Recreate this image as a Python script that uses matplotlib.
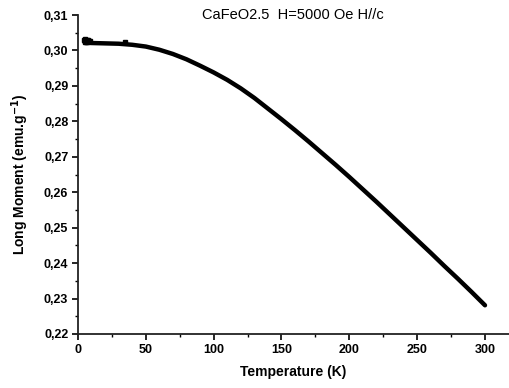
"""Long moment vs temperature for CaFeO2.5 (H=5000 Oe, H//c)."""
import matplotlib
matplotlib.use("Agg")
import matplotlib.pyplot as plt
from matplotlib.ticker import MultipleLocator, FuncFormatter

plt.rcParams['font.family'] = ['Liberation Sans', 'DejaVu Sans']

# main curve
temperature = [5, 10, 20, 30, 40, 50, 60, 70, 80, 90, 100, 110, 120, 130, 140,
               150, 160, 170, 180, 190, 200, 210, 220, 230, 240, 250, 260, 270,
               280, 290, 300]
moment = [0.3022, 0.3021, 0.3020, 0.3019, 0.3016, 0.3011, 0.3002, 0.2990,
          0.2975, 0.2957, 0.2938, 0.2917, 0.2893, 0.2866, 0.2836, 0.2806,
          0.2775, 0.2743, 0.2710, 0.2677, 0.2643, 0.2608, 0.2573, 0.2537,
          0.2501, 0.2465, 0.2429, 0.2392, 0.2356, 0.2319, 0.2281]

# scattered low-temperature points
low_t = [4.5, 5.5, 6.5, 7.5, 8.5, 5.0, 6.0, 7.0, 8.0, 34.5]
low_m = [0.3030, 0.3031, 0.3029, 0.3030, 0.3028, 0.3024, 0.3025, 0.3024, 0.3026, 0.3023]


def comma_fmt(v, pos):
    return f"{v:.2f}".replace('.', ',')


fig = plt.figure(figsize=(5.09, 3.88), dpi=100)
ax = fig.add_axes([0.1532, 0.1392, 0.8468, 0.8221])

ax.plot(temperature, moment, color='black', linewidth=3.2, solid_capstyle='round')
ax.plot(low_t, low_m, 's', color='black', markersize=3.5)

ax.set_xlim(0, 317.7)
ax.set_ylim(0.22, 0.31)

for side in ['top', 'right']:
    ax.spines[side].set_visible(False)
for side in ['left', 'bottom']:
    ax.spines[side].set_linewidth(1.3)
    ax.spines[side].set_color('#222222')

ax.xaxis.set_major_locator(MultipleLocator(50))
ax.xaxis.set_minor_locator(MultipleLocator(25))
ax.yaxis.set_major_locator(MultipleLocator(0.01))
ax.yaxis.set_minor_locator(MultipleLocator(0.005))
ax.yaxis.set_major_formatter(FuncFormatter(comma_fmt))

ax.tick_params(which='major', direction='out', length=4, width=1.2, labelsize=9, pad=3)
ax.tick_params(which='minor', direction='out', length=2.5, width=1.0)
for lbl in ax.get_xticklabels() + ax.get_yticklabels():
    lbl.set_fontweight('bold')

ax.set_xlabel('Temperature (K)', fontsize=10, fontweight='bold', labelpad=7)
ax.set_ylabel('Long Moment (emu.g$^{\\mathbf{-1}}$)', fontsize=10, fontweight='bold', labelpad=9)

fig.text(0.576, 0.961, 'CaFeO2.5  H=5000 Oe H//c', ha='center', va='center', fontsize=10.5)

plt.savefig('out.png', dpi=100)
plt.close()
